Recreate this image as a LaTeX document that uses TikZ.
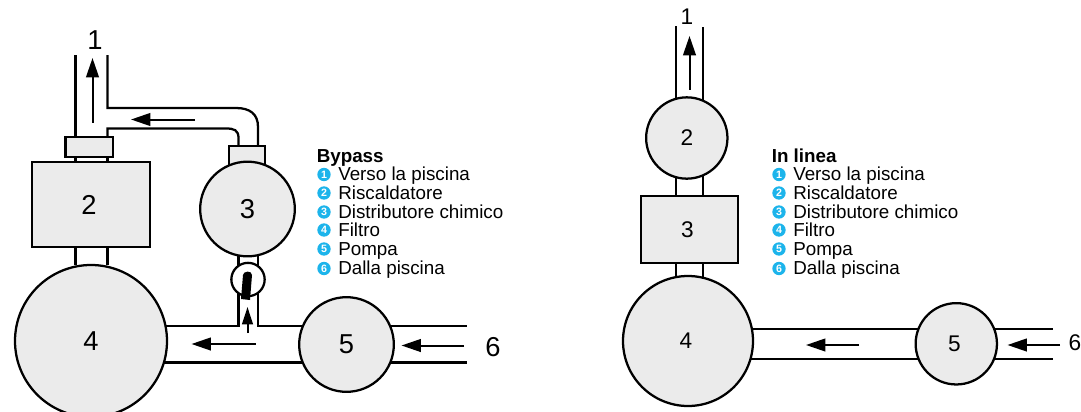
\documentclass[tikz,border=0pt]{standalone}
\usepackage{fontspec}
\setmainfont{Liberation Sans}
\usetikzlibrary{arrows.meta}
\definecolor{bulletblue}{HTML}{1CB4EB}
\definecolor{vesselgray}{HTML}{EBEBEB}
\tikzset{
    pipe/.style={line width=1.7pt, line cap=butt},
    flow/.style={line width=1.5pt, -{Triangle[length=14.5pt, width=9.5pt]}},
    vessel/.style={circle, draw, line width=1.7pt, fill=vesselgray, inner sep=0pt, outer sep=0pt},
    tank/.style={rectangle, draw, line width=1.7pt, fill=vesselgray, inner sep=0pt, outer sep=0pt},
    bignum/.style={font=\fontsize{20.5}{21}\selectfont},
    smallnum/.style={font=\fontsize{17}{18}\selectfont},
    legend/.style={anchor=base west, inner sep=0pt, font=\fontsize{14.1}{15}\selectfont},
    legendhead/.style={legend, font=\fontsize{14.1}{15}\selectfont\bfseries},
    bullet/.style={circle, fill=bulletblue, text=white, inner sep=0pt, minimum size=10pt, font=\fontsize{8}{8}\selectfont\bfseries}
}
\begin{document}
\begin{tikzpicture}[x=0.75pt, y=-0.75pt]
    \path[use as bounding box, clip] (0,0) rectangle (1081,411);

    % bypass: pipe points
    \coordinate (A0) at (75.5, 55);
    \coordinate (A1) at (75.5, 137);
    \coordinate (A2) at (107.5, 55);
    \coordinate (A3) at (107.5, 108);
    \coordinate (A4) at (258, 146);
    \coordinate (A5) at (107.5, 137);
    \coordinate (A6) at (238.5, 146);
    \coordinate (A7) at (75.5, 157);
    \coordinate (A8) at (75.5, 265);
    \coordinate (A9) at (107.5, 157);
    \coordinate (A10) at (107.5, 265);
    \coordinate (A11) at (238.5, 250);
    \coordinate (A12) at (238.5, 326);
    \coordinate (A13) at (258, 250);
    \coordinate (A14) at (258, 326);
    \coordinate (A15) at (160, 326);
    \coordinate (A16) at (305, 326);
    \coordinate (A17) at (160, 362.5);
    \coordinate (A18) at (305, 362.5);
    \coordinate (A19) at (390, 326);
    \coordinate (A20) at (467, 326);
    \coordinate (A21) at (390, 362.5);
    \coordinate (A22) at (467, 362.5);

    \draw[pipe] (A0) -- (A1);
    \draw[pipe] (A2) -- (A3) -- (236, 108) .. controls (250, 108) and (258, 114) .. (258, 127) -- (A4);
    \draw[pipe] (A5) -- (107.5, 128.5) -- (226, 128.5) .. controls (234, 128.5) and (238.5, 130) .. (238.5, 138) -- (A6);
    \draw[pipe] (A7) -- (A8);
    \draw[pipe] (A9) -- (A10);
    \draw[pipe] (A11) -- (A12) -- (A15);
    \draw[pipe] (A13) -- (A14) -- (A16);
    \draw[pipe] (A17) -- (A18);
    \draw[pipe] (A19) -- (A20);
    \draw[pipe] (A21) -- (A22);

    \node[tank, minimum width=35.6pt, minimum height=15pt] (collar) at (89.2, 147.3) {};
    \node[tank, minimum width=27pt, minimum height=15pt] (cap) at (247, 156) {};
    \node[tank, minimum width=88pt, minimum height=63.5pt, bignum] (heaterA) at (91, 204.5) {\kern-3pt 2};
    \node[vessel, minimum size=71pt, bignum] (dosingA) at (247.5, 209) {3};
    \node[vessel, minimum size=114pt, bignum] (filterA) at (91, 341) {4};
    \node[vessel, minimum size=71pt, bignum] (pumpA) at (346.5, 344.5) {5};
    \node[circle, draw, line width=1.7pt, fill=white, inner sep=0pt, minimum size=25pt] (valve) at (248, 279.5) {};
    \fill (243, 275) .. controls (243, 271) and (252, 270) .. (252, 275) -- (250, 300) -- (241, 299) -- cycle;

    \node[bignum, inner sep=0pt] (outA) at (95, 40) {1};
    \node[bignum, inner sep=0pt] (inA) at (493, 347) {6};

    \coordinate (F0) at (92.5, 122.5);
    \coordinate (F1) at (92.5, 58);
    \coordinate (F2) at (195, 119.5);
    \coordinate (F3) at (131, 119.5);
    \coordinate (F4) at (247.5, 333);
    \coordinate (F5) at (247.5, 307);
    \coordinate (F6) at (255.5, 344);
    \coordinate (F7) at (191.5, 344);
    \coordinate (F8) at (464, 345.5);
    \coordinate (F9) at (401.5, 345.5);

    \draw[flow] (F0) -- (F1);
    \draw[flow] (F2) -- (F3);
    \draw[line width=1.5pt, -{Triangle[length=13pt, width=8pt]}] (F4) -- (F5);
    \draw[flow] (F6) -- (F7);
    \draw[flow] (F8) -- (F9);

    \node[legendhead] (headA) at (316.5, 162) {Bypass};
    \node[bullet] (a1) at (324, 174.5) {1};
    \node[legend] (ta1) at (338, 180.7) {Verso la piscina};
    \node[bullet] (a2) at (324, 193) {2};
    \node[legend] (ta2) at (338, 199.5) {Riscaldatore};
    \node[bullet] (a3) at (324, 212) {3};
    \node[legend] (ta3) at (338, 218.3) {Distributore chimico};
    \node[bullet] (a4) at (324, 230) {4};
    \node[legend] (ta4) at (338, 236.7) {Filtro};
    \node[bullet] (a5) at (324, 249) {5};
    \node[legend] (ta5) at (338, 255.5) {Pompa};
    \node[bullet] (a6) at (324, 268.5) {6};
    \node[legend] (ta6) at (338, 274.3) {Dalla piscina};

    % in linea: pipe points
    \coordinate (B0) at (676, 26);
    \coordinate (B1) at (676, 276);
    \coordinate (B2) at (703, 27);
    \coordinate (B3) at (703, 280);
    \coordinate (B4) at (745, 329);
    \coordinate (B5) at (925, 329);
    \coordinate (B6) at (745, 359);
    \coordinate (B7) at (925, 359);
    \coordinate (B8) at (990, 329);
    \coordinate (B9) at (1052.5, 329);
    \coordinate (B10) at (990, 359);
    \coordinate (B11) at (1052.5, 359);

    \draw[pipe] (B0) -- (B1);
    \draw[pipe] (B2) -- (B3);
    \draw[pipe] (B4) -- (B5);
    \draw[pipe] (B6) -- (B7);
    \draw[pipe] (B8) -- (B9);
    \draw[pipe] (B10) -- (B11);

    \node[vessel, minimum size=61pt, smallnum] (heaterB) at (686.8, 138) {2};
    \node[tank, minimum width=73pt, minimum height=50pt, smallnum] (dosingB) at (689.5, 229.3) {\kern-3pt 3};
    \node[vessel, minimum size=97.5pt, smallnum] (filterB) at (688, 341) {\kern-3pt 4};
    \node[vessel, minimum size=61pt, smallnum] (pumpB) at (956.3, 343.8) {\kern-3pt 5};

    \node[smallnum, inner sep=0pt] (outB) at (687, 17) {1};
    \node[smallnum, inner sep=0pt] (inB) at (1075, 343) {6};

    \coordinate (G0) at (689.5, 89.5);
    \coordinate (G1) at (689.5, 36);
    \coordinate (G2) at (859, 345);
    \coordinate (G3) at (806, 345);
    \coordinate (G4) at (1060, 345);
    \coordinate (G5) at (1007.5, 345);

    \draw[flow] (G0) -- (G1);
    \draw[flow] (G2) -- (G3);
    \draw[flow] (G4) -- (G5);

    \node[legendhead] (headB) at (771.5, 162) {In linea};
    \node[bullet] (b1) at (779, 174.5) {1};
    \node[legend] (tb1) at (793, 180.7) {Verso la piscina};
    \node[bullet] (b2) at (779, 193) {2};
    \node[legend] (tb2) at (793, 199.5) {Riscaldatore};
    \node[bullet] (b3) at (779, 212) {3};
    \node[legend] (tb3) at (793, 218.3) {Distributore chimico};
    \node[bullet] (b4) at (779, 230) {4};
    \node[legend] (tb4) at (793, 236.7) {Filtro};
    \node[bullet] (b5) at (779, 249) {5};
    \node[legend] (tb5) at (793, 255.5) {Pompa};
    \node[bullet] (b6) at (779, 268.5) {6};
    \node[legend] (tb6) at (793, 274.3) {Dalla piscina};
\end{tikzpicture}
\end{document}
